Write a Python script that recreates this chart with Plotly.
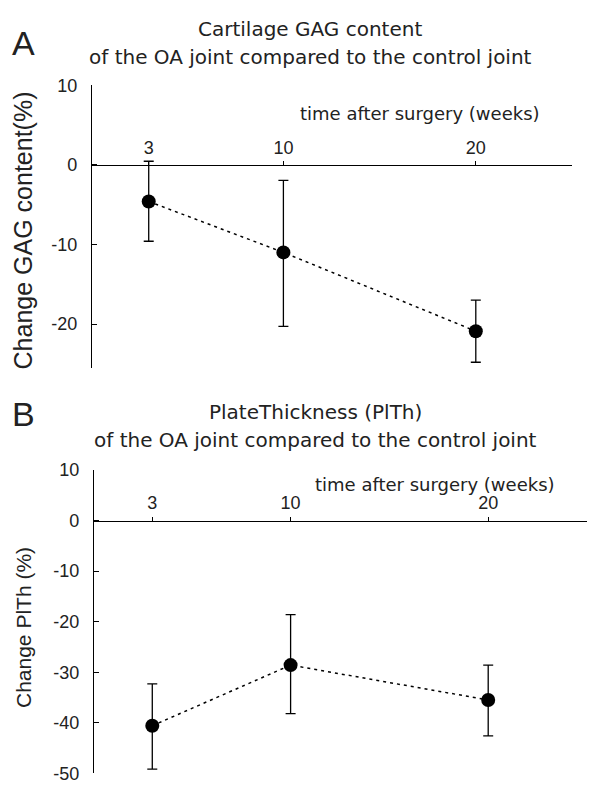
import plotly.graph_objects as go

# data
weeks = [3, 10, 20]

gag_mean = [-4.6, -11.0, -20.9]
gag_upper = [0.45, -1.95, -17.0]
gag_lower = [-9.6, -20.3, -24.8]

plth_mean = [-40.6, -28.6, -35.5]
plth_upper = [-32.3, -18.6, -28.6]
plth_lower = [-49.2, -38.2, -42.6]

gag_ticks = [10, 0, -10, -20]
plth_ticks = [10, 0, -10, -20, -30, -40, -50]

FONT = "Liberation Sans, Arial, sans-serif"
TFONT = "DejaVu Sans, sans-serif"

# page body has an 8px margin, so the figure is shrunk to fit the window
OFF = 8
W, H = 600 - 2 * OFF, 799 - 2 * OFF


def fx(p):
    return (p - OFF) / W


def fy(p):
    return 1 - (p - OFF) / H


# panel geometry, in window pixels of the reference
A_x = [fx(91), fx(572)]
A_y = [fy(367), fy(77)]
A_range = [-25.5, 10]
B_x = [fx(93), fx(587)]
B_y = [fy(783), fy(472)]
B_range = [-50, 10]


def zero_pos(dom, rng):
    return dom[0] + (0 - rng[0]) / (rng[1] - rng[0]) * (dom[1] - dom[0])


fig = go.Figure()


def add_series(mean, upper, lower, xa, ya):
    fig.add_trace(go.Scatter(
        x=weeks, y=mean, xaxis=xa, yaxis=ya, mode="lines+markers",
        line=dict(color="black", width=1.5, dash="3px,4px"),
        marker=dict(color="black", size=14),
        error_y=dict(type="data", symmetric=False,
                     array=[u - m for u, m in zip(upper, mean)],
                     arrayminus=[m - l for m, l in zip(mean, lower)],
                     color="black", thickness=1.3, width=5),
        showlegend=False,
    ))


add_series(gag_mean, gag_upper, gag_lower, "x", "y")
add_series(plth_mean, plth_upper, plth_lower, "x2", "y2")

xcommon = dict(range=[0, 25], tickvals=weeks, ticktext=[str(w) for w in weeks],
               showgrid=False, zeroline=False,
               showline=True, linecolor="black", linewidth=1.2,
               ticks="outside", ticklen=4, tickcolor="black",
               tickfont=dict(family=FONT, size=18, color="#222"), side="top")
xlow = dict(range=[0, 25], tickvals=weeks, showgrid=False, zeroline=False,
            showline=False, ticks="outside", ticklen=5, tickcolor="black",
            showticklabels=False, side="bottom")
ycommon = dict(showgrid=False, zeroline=False, showline=True, linecolor="black",
               linewidth=1.2, ticks="inside", ticklen=5, tickcolor="black",
               tickfont=dict(family=FONT, size=18, color="#222"),
               ticklabelstandoff=10, ticklabeloverflow="allow")

fig.update_layout(
    width=W, height=H, margin=dict(l=0, r=0, t=0, b=0),
    plot_bgcolor="white", paper_bgcolor="white",
    xaxis=dict(domain=A_x, anchor="free", position=zero_pos(A_y, A_range), **xcommon),
    yaxis=dict(domain=A_y, anchor="free", position=A_x[0], range=A_range,
               tickvals=gag_ticks, ticktext=[str(t) for t in gag_ticks], **ycommon),
    xaxis2=dict(domain=B_x, anchor="free", position=zero_pos(B_y, B_range), **xcommon),
    yaxis2=dict(domain=B_y, anchor="free", position=B_x[0], range=B_range,
                tickvals=plth_ticks, ticktext=[str(t) for t in plth_ticks], **ycommon),
    xaxis3=dict(domain=A_x, anchor="free", position=zero_pos(A_y, A_range),
                overlaying="x", **xlow),
    xaxis4=dict(domain=B_x, anchor="free", position=zero_pos(B_y, B_range),
                overlaying="x2", **xlow),
)

ann = [
    dict(text="A", x=10, y=34, size=34, xanchor="left", f=FONT),
    dict(text="Cartilage GAG content", x=310, y=19, size=20, xanchor="center", f=TFONT),
    dict(text="of the OA joint compared to the control joint", x=310, y=48, size=20, xanchor="center", f=TFONT),
    dict(text="time after surgery (weeks)", x=542, y=106, size=18, xanchor="right", f=TFONT),
    dict(text="B", x=10, y=414, size=34, xanchor="left", f=FONT),
    dict(text="PlateThickness (PlTh)", x=315, y=412, size=20, xanchor="center", f=TFONT),
    dict(text="of the OA joint compared to the control joint", x=315, y=441, size=20, xanchor="center", f=TFONT),
    dict(text="time after surgery (weeks)", x=557, y=487, size=18, xanchor="right", f=TFONT),
]
for a in ann:
    fig.add_annotation(text=a["text"], x=fx(a["x"]), y=fy(a["y"]), xref="paper", yref="paper",
                       xanchor=a["xanchor"], yanchor="middle", showarrow=False,
                       font=dict(size=a["size"], family=a["f"], color="#222"))

fig.add_annotation(text="Change GAG content(%)", x=fx(23), y=fy(226), xref="paper", yref="paper",
                   xanchor="center", yanchor="middle", textangle=-90, showarrow=False,
                   font=dict(size=25, family=FONT, color="#222"))
fig.add_annotation(text="Change PlTh (%)", x=fx(23), y=fy(634), xref="paper", yref="paper",
                   xanchor="center", yanchor="middle", textangle=-90, showarrow=False,
                   font=dict(size=21, family=FONT, color="#222"))

fig.write_html("out.html")
